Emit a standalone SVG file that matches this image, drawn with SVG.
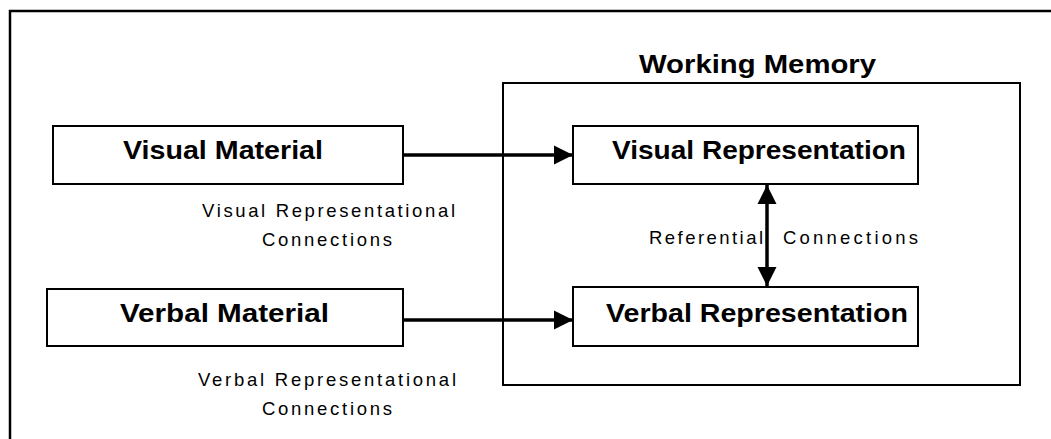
<svg xmlns="http://www.w3.org/2000/svg" width="1051" height="439" viewBox="0 0 1051 439">
<style>
.box{fill:#fff;stroke:#000;stroke-width:2}
.frame{fill:none;stroke:#000;stroke-width:2.5}
.b{font-family:"Liberation Sans",Arial,sans-serif;font-weight:bold;font-size:25px;fill:#000}
.r{font-family:"Liberation Sans",Arial,sans-serif;font-size:18.5px;fill:#000}
.conn{stroke:#000;stroke-width:3.5;fill:none}
</style>
<defs>
<marker id="ah" viewBox="0 0 10 10" refX="10" refY="5" markerWidth="5.5" markerHeight="5.5" orient="auto-start-reverse" markerUnits="strokeWidth">
<path d="M0,0 L10,5 L0,10 Z" fill="#000"/>
</marker>
</defs>
<rect class="frame" x="10" y="11" width="1060" height="440"/>
<g id="working-memory">
<rect class="box" x="503" y="83" width="517" height="302"/>
<text class="b" x="639" y="73" textLength="237" lengthAdjust="spacingAndGlyphs">Working Memory</text>
</g>
<g id="visual-material">
<rect class="box" x="53" y="126" width="350" height="58"/>
<text class="b" x="123" y="159" textLength="200" lengthAdjust="spacingAndGlyphs">Visual Material</text>
</g>
<g id="verbal-material">
<rect class="box" x="47" y="289" width="356" height="57"/>
<text class="b" x="120" y="322" textLength="209" lengthAdjust="spacingAndGlyphs">Verbal Material</text>
</g>
<g id="visual-representation">
<rect class="box" x="573" y="126" width="345" height="58"/>
<text class="b" x="612" y="159" textLength="294" lengthAdjust="spacingAndGlyphs">Visual Representation</text>
</g>
<g id="verbal-representation">
<rect class="box" x="573" y="287" width="345" height="59"/>
<text class="b" x="606" y="322" textLength="302" lengthAdjust="spacingAndGlyphs">Verbal Representation</text>
</g>
<g id="labels">
<text class="r" x="202" y="217" textLength="253" lengthAdjust="spacing">Visual Representational</text>
<text class="r" x="262" y="246" textLength="130" lengthAdjust="spacing">Connections</text>
<text class="r" x="198" y="386" textLength="258" lengthAdjust="spacing">Verbal Representational</text>
<text class="r" x="262" y="415" textLength="130" lengthAdjust="spacing">Connections</text>
<text class="r" y="244"><tspan x="649" textLength="114" lengthAdjust="spacing">Referential</tspan><tspan x="783" textLength="135" lengthAdjust="spacing">Connections</tspan></text>
</g>
<g id="connectors">
<line class="conn" x1="404" y1="155" x2="573" y2="155" marker-end="url(#ah)"/>
<line class="conn" x1="404" y1="320" x2="573" y2="320" marker-end="url(#ah)"/>
<line class="conn" x1="767" y1="185" x2="767" y2="286" marker-start="url(#ah)" marker-end="url(#ah)"/>
</g>
</svg>
